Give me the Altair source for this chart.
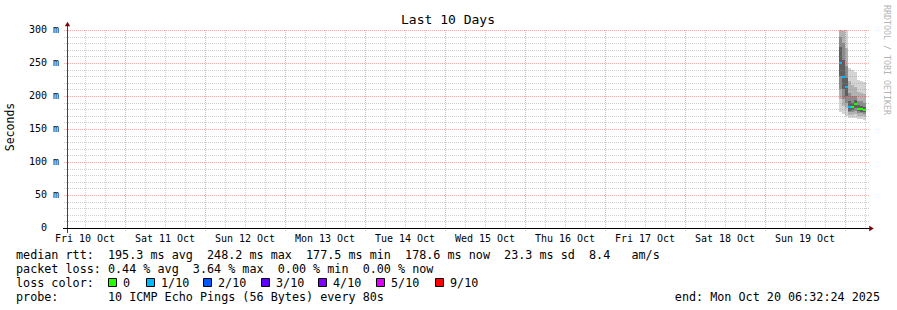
import altair as alt
import pandas as pd

FONT = "DejaVu Sans Mono"
OX, OY = 67, 30  # plot origin inside the page

# ---------------- data ----------------
col_start = ["2025-10-19T22:12:00Z", "2025-10-19T23:06:00Z", "2025-10-20T00:00:00Z",
             "2025-10-20T00:54:00Z", "2025-10-20T01:48:00Z", "2025-10-20T02:42:00Z",
             "2025-10-20T03:36:00Z", "2025-10-20T04:30:00Z", "2025-10-20T05:24:00Z"]
col_end = ["2025-10-19T23:06:00Z", "2025-10-20T00:00:00Z", "2025-10-20T00:54:00Z",
           "2025-10-20T01:48:00Z", "2025-10-20T02:42:00Z", "2025-10-20T03:36:00Z",
           "2025-10-20T04:30:00Z", "2025-10-20T05:24:00Z", "2025-10-20T06:18:00Z"]
rtt_max    = [305, 305, 300, 242, 240, 236, 224, 222, 221]
rtt_hi2    = [300, 298, 272, 222, 216, 213, 206, 204, 203]
rtt_hi3    = [290, 280, 245, 205, 200, 200, 193, 192, 190]
rtt_hi4    = [275, 255, 228, 192, 190, 194, 186, 185, 184]
rtt_median = [250, 229, 213, 183, 183, 188, 181, 180, 179]
rtt_lo4    = [230, 210, 200, 178, 179, 182, 177, 176, 176]
rtt_lo3    = [210, 195, 190, 175, 176, 177, 174, 174, 173]
rtt_lo2    = [195, 185, 182, 171, 171, 172, 170, 170, 169]
rtt_min    = [176, 173, 170, 166, 166, 166, 165, 165, 164]
loss_level = ["1/10", "1/10", "1/10", "1/10", "0", "0", "0", "0", "0"]

loss_labels = ["0", "1/10", "2/10", "3/10", "4/10", "5/10", "9/10"]
loss_colors = ["#26ff00", "#00b8ff", "#0059ff", "#5e00ff", "#7e00ff", "#dd00ff", "#ff0000"]
legend_box_x = [108, 146, 203, 261, 318, 376, 435]

band_colors = ["#d4d4d4", "#b2b2b2", "#8c8c8c", "#606060"]

x_label_time = ["2025-10-%02dT12:00:00Z" % d for d in range(10, 20)]
x_label_text = ["Fri 10 Oct", "Sat 11 Oct", "Sun 12 Oct", "Mon 13 Oct", "Tue 14 Oct",
                "Wed 15 Oct", "Thu 16 Oct", "Fri 17 Oct", "Sat 18 Oct", "Sun 19 Oct"]
y_tick_values = [50, 100, 150, 200, 250, 300]
y_tick_labels = ["50 m", "100 m", "150 m", "200 m", "250 m", "300 m"]
y_zero_value = [0]
y_zero_label = ["0"]

legend_rows = [
    "median rtt:  195.3 ms avg  248.2 ms max  177.5 ms min  178.6 ms now  23.3 ms sd  8.4   am/s",
    "packet loss: 0.44 % avg  3.64 % max  0.00 % min  0.00 % now",
    "loss color:",
    "probe:       10 ICMP Echo Pings (56 Bytes) every 80s",
]
end_text = "end: Mon Oct 20 06:32:24 2025"

# ---------------- scales ----------------
x_scale = alt.Scale(type="utc", round=True, domain=[
    alt.DateTime(year=2025, month=10, date=10, hours=6, minutes=32, seconds=24, utc=True),
    alt.DateTime(year=2025, month=10, date=20, hours=6, minutes=32, seconds=24, utc=True)])
y_scale = alt.Scale(domain=[0, 300], nice=False, zero=True, round=True)

X = lambda f: alt.X(f, type="temporal", scale=x_scale, axis=None)
Y = lambda f: alt.Y(f, type="quantitative", scale=y_scale, axis=None)

# ---------------- smoke ----------------
rows = []
bands = [(rtt_min, rtt_max), (rtt_lo2, rtt_hi2), (rtt_lo3, rtt_hi3), (rtt_lo4, rtt_hi4)]
for b, (lo, hi) in enumerate(bands):
    for i in range(len(col_start)):
        rows.append({"start": col_start[i], "end": col_end[i], "lo": lo[i], "hi": hi[i],
                     "c": band_colors[b]})
smoke = alt.Chart(pd.DataFrame(rows)).mark_rect(clip=True).encode(
    x=X("start"), x2="end", y=Y("lo"), y2="hi", color=alt.Color("c:N", scale=None))

med_df = pd.DataFrame({"start": col_start, "end": col_end, "med": rtt_median,
                       "c": [loss_colors[loss_labels.index(l)] for l in loss_level]})
median = alt.Chart(med_df).mark_rule(strokeWidth=2).encode(
    x=X("start"), x2="end", y=Y("med"), color=alt.Color("c:N", scale=None))

# ---------------- grid ----------------
vt = pd.date_range("2025-10-10 12:00", "2025-10-20 06:00", freq="6h", tz="UTC")
v_minor = [t.strftime("%Y-%m-%dT%H:%M:%SZ") for t in vt if t.hour != 0]
v_major = [t.strftime("%Y-%m-%dT%H:%M:%SZ") for t in vt if t.hour == 0]
h_minor = [v for v in range(10, 300, 10) if v % 50 != 0]
h_major = [50, 100, 150, 200, 250, 300]

grid_minor_v = alt.Chart(pd.DataFrame({"t": v_minor})).mark_rule(
    stroke="#8c8c8c", opacity=0.42, strokeDash=[1, 1], xOffset=0.5).encode(
    x=X("t"), y=alt.value(0), y2=alt.value(198))
grid_major_v = alt.Chart(pd.DataFrame({"t": v_major})).mark_rule(
    stroke="#ff0000", opacity=0.33, strokeDash=[1, 1], xOffset=0.5).encode(
    x=X("t"), y=alt.value(0), y2=alt.value(202))
grid_minor_h = alt.Chart(pd.DataFrame({"v": h_minor})).mark_rule(
    stroke="#8c8c8c", opacity=0.42, strokeDash=[1, 1], yOffset=0.5).encode(
    y=Y("v"), x=alt.value(-3), x2=alt.value(802))
grid_major_h = alt.Chart(pd.DataFrame({"v": h_major})).mark_rule(
    stroke="#ff0000", opacity=0.33, strokeDash=[1, 1], yOffset=0.5).encode(
    y=Y("v"), x=alt.value(-3), x2=alt.value(802))

# ---------------- axes ----------------
y_axis_line = alt.Chart(pd.DataFrame({"a": [0]})).mark_rule(
    stroke="#444444", strokeWidth=1, xOffset=0.5).encode(
    x=alt.value(0), y=alt.value(-7), y2=alt.value(203))
x_axis_line = alt.Chart(pd.DataFrame({"a": [0]})).mark_rule(
    stroke="#000000", strokeWidth=1, yOffset=0.5).encode(
    x=alt.value(-4), x2=alt.value(803), y=alt.value(198))
arrow_up = alt.Chart(pd.DataFrame({"a": [0]})).mark_point(
    shape="triangle-up", filled=True, color="#800000", size=28, opacity=1).encode(
    x=alt.value(0.5), y=alt.value(-6))
arrow_right = alt.Chart(pd.DataFrame({"a": [0]})).mark_point(
    shape="triangle-right", filled=True, color="#800000", size=28, opacity=1).encode(
    x=alt.value(804.5), y=alt.value(198.5))

x_labels = alt.Chart(pd.DataFrame({"t": x_label_time, "s": x_label_text})).mark_text(
    font=FONT, fontSize=10, baseline="alphabetic", align="center", color="#000").encode(
    x=X("t"), y=alt.value(242 - OY), text="s:N")
y_labels = alt.Chart(pd.DataFrame({"v": y_tick_values, "s": y_tick_labels})).mark_text(
    font=FONT, fontSize=10, baseline="middle", align="right", color="#000").encode(
    y=Y("v"), x=alt.value(59 - OX), text="s:N")
y_zero = alt.Chart(pd.DataFrame({"v": y_zero_value, "s": y_zero_label})).mark_text(
    font=FONT, fontSize=10, baseline="middle", align="right", color="#000").encode(
    y=Y("v"), x=alt.value(47 - OX), text="s:N")


def label(text, px, py, size=11.75, align="left", angle=0, color="#000000"):
    mk = dict(font=FONT, fontSize=size, align=align, baseline="alphabetic", color=color)
    if angle:
        mk["angle"] = angle
        mk["baseline"] = "middle"
    return alt.Chart(pd.DataFrame({"t": [text.replace(" ", "\u00a0")]})).mark_text(**mk).encode(
        x=alt.value(px - OX), y=alt.value(py - OY), text="t:N")


texts = [
    label("Last 10 Days", 448, 24, size=13, align="center"),
    label("Seconds", 11, 127, size=11.5, align="center", angle=270),
    label("RRDTOOL / TOBI OETIKER", 886, 60, size=8.3, align="center", angle=90, color="#b4b4b4"),
    label(legend_rows[0], 16, 258.5),
    label(legend_rows[1], 16, 272.8),
    label(legend_rows[2], 16, 287),
    label(legend_rows[3], 16, 301.3),
    label(end_text, 880, 301.3, align="right"),
]
for bx, lab in zip(legend_box_x, loss_labels):
    texts.append(label(lab, bx + 15, 287))

boxes = []
for bx, col in zip(legend_box_x, loss_colors):
    boxes.append(alt.Chart(pd.DataFrame({"a": [0]})).mark_rect(
        fill=col, stroke="#000000", strokeWidth=1).encode(
        x=alt.value(bx + 0.5 - OX), x2=alt.value(bx + 8.5 - OX),
        y=alt.value(278.5 - OY), y2=alt.value(286.5 - OY)))

chart = alt.layer(
    smoke, grid_minor_v, grid_major_v, grid_minor_h, grid_major_h, median,
    y_axis_line, x_axis_line, arrow_up, arrow_right, x_labels, y_labels, y_zero,
    *texts, *boxes
).properties(
    width=800, height=198,
    autosize=alt.AutoSizeParams(type="none"),
    padding={"left": OX, "top": OY, "right": 897 - OX - 800, "bottom": 310 - OY - 198},
    background="white",
).configure_view(stroke=None)

chart.save("out.html", embed_options={"renderer": "svg", "actions": False})
